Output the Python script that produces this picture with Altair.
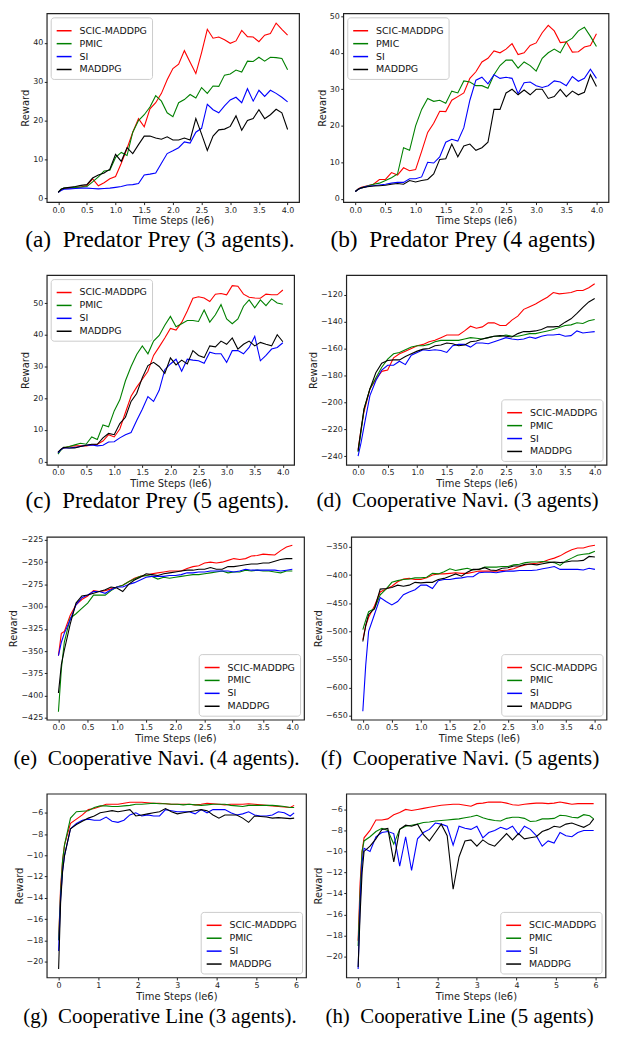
import altair as alt
import pandas as pd

SERIES = ["SCIC-MADDPG", "PMIC", "SI", "MADDPG"]
COLORS = ["#ff0000", "#008000", "#0000ff", "#000000"]

X4 = [0.0, 0.05, 0.1, 0.2, 0.3, 0.4, 0.5, 0.6, 0.7, 0.8, 0.9, 1.0, 1.1, 1.2, 1.3, 1.4, 1.5,
      1.6, 1.7, 1.8, 1.9, 2.0, 2.1, 2.2, 2.3, 2.4, 2.5, 2.6, 2.7, 2.8, 2.9, 3.0, 3.1, 3.2,
      3.3, 3.4, 3.5, 3.6, 3.7, 3.8, 3.9, 4.0]
X6 = [0.0, 0.05, 0.1, 0.15, 0.3, 0.45, 0.6, 0.75, 0.9, 1.05, 1.2, 1.35, 1.5, 1.65, 1.8, 1.95,
      2.1, 2.25, 2.4, 2.55, 2.7, 2.85, 3.0, 3.15, 3.3, 3.45, 3.6, 3.75, 3.9, 4.05, 4.2, 4.35,
      4.5, 4.65, 4.8, 4.95, 5.1, 5.25, 5.4, 5.55, 5.7, 5.85, 5.95]

# (a) Predator Prey (3 agents)
A_SCIC = [1.5, 2.2, 2.5, 2.6, 2.8, 2.9, 3.3, 5.0, 3.2, 4.0, 5.0, 5.6, 9.0, 12.8, 17.0, 20.5, 18.4, 23.0, 24.6, 27.0, 30.5, 33.4, 34.5, 38.0, 35.0, 32.1, 37.5, 43.5, 41.2, 41.5, 40.8, 39.9, 40.5, 43.2, 41.6, 41.5, 40.3, 42.0, 42.4, 45.1, 43.5, 42.0]
A_PMIC = [1.5, 2.3, 2.6, 2.7, 2.8, 2.9, 3.0, 4.2, 5.5, 7.0, 7.2, 10.5, 11.8, 11.0, 17.0, 20.0, 21.5, 23.5, 26.4, 25.0, 22.0, 21.0, 24.6, 25.4, 26.7, 25.8, 28.5, 27.0, 28.9, 28.8, 31.7, 32.0, 33.0, 32.5, 35.3, 35.2, 36.3, 35.3, 36.3, 36.2, 36.0, 33.1]
A_SI = [1.5, 2.0, 2.3, 2.4, 2.5, 2.6, 2.6, 2.5, 2.4, 2.5, 2.6, 2.8, 3.0, 3.4, 3.5, 3.8, 6.0, 6.2, 6.5, 9.0, 11.5, 12.2, 13.0, 14.5, 14.2, 17.0, 18.0, 24.2, 22.8, 22.0, 23.8, 25.3, 26.0, 24.6, 28.2, 25.0, 27.8, 26.2, 27.8, 27.0, 26.0, 24.8]
A_MADDPG = [1.5, 2.3, 2.6, 2.8, 3.0, 3.3, 3.5, 5.2, 6.0, 6.5, 7.5, 11.3, 9.5, 13.0, 11.5, 13.8, 16.0, 16.0, 15.5, 15.2, 15.8, 15.0, 15.0, 15.5, 15.0, 20.5, 16.5, 12.3, 16.0, 17.6, 17.8, 18.5, 21.2, 17.5, 20.0, 20.5, 22.8, 20.5, 21.5, 22.9, 22.0, 17.7]

# (b) Predator Prey (4 agents)
B_SCIC = [2.0, 2.8, 3.2, 3.6, 4.0, 5.3, 5.3, 7.2, 6.5, 8.5, 7.7, 8.0, 13.0, 18.2, 20.7, 24.0, 23.9, 27.0, 28.0, 29.0, 33.0, 34.8, 37.5, 38.5, 40.5, 40.0, 41.0, 42.5, 39.5, 40.0, 42.0, 42.7, 45.5, 47.5, 46.0, 42.8, 43.0, 40.2, 40.3, 41.6, 42.0, 45.2]
B_PMIC = [2.0, 2.7, 3.0, 3.5, 4.0, 4.3, 5.0, 5.8, 6.8, 14.0, 13.3, 20.0, 24.5, 27.5, 26.7, 27.0, 26.2, 29.5, 29.0, 32.3, 32.0, 31.0, 31.0, 30.3, 34.0, 36.5, 38.0, 38.0, 35.8, 37.5, 36.5, 35.0, 38.5, 40.0, 41.0, 40.0, 43.0, 44.0, 46.0, 47.0, 44.5, 41.7]
B_SI = [2.0, 2.6, 3.0, 3.4, 3.6, 3.8, 4.0, 4.3, 4.5, 4.5, 5.5, 5.5, 6.0, 10.0, 9.8, 11.5, 15.5, 16.3, 15.8, 19.5, 27.0, 32.5, 33.3, 31.5, 34.0, 33.0, 33.3, 33.0, 28.8, 31.8, 32.0, 31.0, 30.5, 31.0, 32.3, 32.0, 31.0, 33.5, 32.2, 33.0, 35.5, 33.0]
B_MADDPG = [2.0, 2.6, 3.0, 3.3, 3.5, 3.6, 3.7, 4.0, 4.2, 4.0, 5.0, 4.6, 5.0, 5.3, 6.8, 10.8, 11.0, 15.0, 11.5, 14.5, 15.0, 13.3, 14.0, 15.5, 24.5, 24.5, 29.0, 30.0, 28.5, 29.8, 28.5, 30.0, 30.0, 27.5, 28.0, 30.0, 28.0, 29.5, 28.5, 29.2, 34.0, 30.8]

# (c) Predator Prey (5 agents)
C_SCIC = [2.8, 3.8, 4.3, 4.8, 5.0, 5.0, 5.0, 5.3, 5.5, 6.5, 8.5, 7.8, 10.3, 15.5, 20.6, 23.5, 26.0, 28.5, 33.5, 36.2, 39.0, 42.0, 41.5, 43.9, 47.5, 51.5, 52.0, 51.6, 50.5, 52.8, 53.0, 52.6, 55.5, 55.3, 52.8, 51.8, 51.6, 51.5, 52.8, 52.6, 52.6, 54.1]
C_PMIC = [2.4, 3.6, 4.5, 4.8, 5.3, 5.8, 5.5, 7.8, 7.0, 11.6, 11.0, 16.0, 19.5, 25.5, 30.0, 33.8, 36.5, 34.0, 38.0, 39.8, 43.0, 45.8, 42.5, 43.5, 44.5, 44.5, 44.2, 47.8, 44.0, 46.3, 49.5, 45.0, 43.5, 45.0, 49.0, 51.0, 48.5, 51.0, 49.2, 51.3, 50.0, 49.6]
C_SI = [2.8, 3.8, 4.3, 4.3, 4.5, 4.8, 5.2, 5.3, 5.0, 5.2, 6.2, 6.3, 7.5, 8.5, 9.2, 13.0, 16.5, 20.5, 19.0, 22.5, 29.0, 30.8, 32.3, 28.5, 32.3, 32.0, 31.8, 31.0, 34.5, 34.0, 34.0, 31.3, 35.0, 35.0, 34.0, 36.0, 39.5, 31.8, 33.5, 35.5, 36.0, 37.5]
C_MADDPG = [3.0, 3.9, 4.5, 4.3, 4.3, 4.8, 5.2, 5.5, 5.5, 7.5, 8.9, 8.5, 12.0, 14.0, 19.0, 21.5, 26.5, 30.3, 31.3, 30.0, 27.8, 32.7, 30.5, 32.0, 30.8, 35.0, 33.5, 32.8, 36.5, 36.2, 38.0, 37.0, 39.0, 35.5, 37.0, 38.0, 36.5, 37.6, 37.0, 36.5, 40.0, 37.8]

# (d) Cooperative Navi. (3 agents)
D_SCIC = [-235, -220, -207, -190, -183, -177, -176, -167, -164, -162, -160, -158, -157, -155, -154, -152, -150, -150, -150, -147, -143.5, -145, -144, -141, -141, -143, -143, -139, -136, -131, -129, -127, -124.5, -122, -118.5, -119.5, -119, -118.5, -117, -117, -115, -112]
D_PMIC = [-237, -222, -205, -190, -182, -174, -168, -164, -163, -161, -159, -158, -158, -157, -155, -154, -154, -154, -154, -153, -152, -152.5, -153, -152, -151, -151, -150, -151, -151, -150, -149, -149, -148, -147, -146, -144.5, -143, -142.5, -141, -141.5, -139.5, -138.5]
D_SI = [-240, -230, -218, -195, -184, -176, -172.5, -172.5, -169.5, -172, -165, -163, -161, -161.5, -161, -161.5, -163, -158, -157, -157, -159, -156, -156, -156.5, -155, -153.5, -152, -153, -153.5, -153, -151.5, -152.5, -151, -150, -150, -149.5, -151, -150.5, -147, -148.5, -148, -147.5]
D_MADDPG = [-236, -220, -205, -190, -178, -171, -169, -168.5, -168.5, -166, -164, -162, -160.5, -160, -158, -157.5, -156, -156.5, -158, -157.5, -155, -154.5, -153, -152, -151, -150.5, -151, -151.5, -149, -147.5, -147.5, -147, -146, -144, -144, -143.5, -140.5, -138, -134, -129.5, -125.5, -123]

# (e) Cooperative Navi. (4 agents)
E_SCIC = [-355, -330, -328, -310, -298, -292, -288, -282, -283, -282, -280, -278, -276, -272, -268, -266, -265, -263, -262, -261, -260, -260, -260, -257, -255, -254, -251, -250, -251, -250, -248, -246, -247, -246, -243, -242.5, -241, -241.5, -242, -237, -233, -231]
E_PMIC = [-418, -370, -340, -313, -308, -302, -296, -287, -287, -287, -282, -278, -276, -272, -269, -266, -265, -266, -269, -267, -268, -267, -266, -265, -264, -264, -263, -262, -261, -260, -262, -261, -261, -259, -260, -259, -260, -260, -261, -262, -260, -260]
E_SI = [-355, -340, -330, -315, -298, -290, -287, -283, -283, -285, -281, -278, -278, -275, -273, -270, -267, -266, -266, -266, -265, -265, -264, -262, -262, -261, -261, -260, -260, -260, -260, -261, -260, -258, -259, -259, -259, -259, -259, -260, -259, -258]
E_MADDPG = [-397, -365, -349, -320, -296, -288, -287, -285, -283, -281, -278, -279, -283, -275, -270, -267, -263, -264, -265, -263, -262, -261, -260, -259, -259, -258, -258, -256, -258, -258, -255, -255, -254, -253, -252, -252, -251, -251, -249, -247, -246, -246]

# (f) Cooperative Navi. (5 agents)
F_SCIC = [-515, -490, -475, -455, -430, -425, -420, -412, -407, -406, -408, -408, -405, -400, -398, -398, -397, -396, -397, -397, -395, -393, -393, -393, -393, -392, -391, -389, -385, -382, -380, -379, -377, -373, -370, -366, -360, -355, -352, -352, -349, -347]
F_PMIC = [-497, -480, -465, -460, -435, -425, -413, -410, -408, -407, -405, -405, -404, -397, -398, -394, -389, -392, -390, -388, -391, -390, -386, -386, -386, -385, -385, -382, -381, -378, -377, -377, -376, -377, -378, -383, -375, -370, -365, -363, -362, -358]
F_SI = [-642, -560, -500, -470, -440, -447, -453, -447, -435, -430, -426, -418, -418, -424, -410, -408, -408, -406, -405, -403, -403, -396, -395, -395, -396, -394, -393, -393, -392, -392, -392, -391, -389, -387, -385, -390, -390, -390, -390, -391, -388, -390]
F_MADDPG = [-518, -490, -470, -460, -425, -424, -422, -418, -420, -418, -413, -414, -413, -413, -408, -406, -402, -398, -402, -395, -390, -390, -387, -391, -392, -388, -387, -384, -384, -381, -381, -382, -380, -378, -377, -378, -377, -375, -375, -374, -367, -368]

# (g) Cooperative Line (3 agents)
G_SCIC = [-18.0, -13.0, -10.5, -9.0, -7.0, -6.6, -6.2, -5.7, -5.6, -5.4, -5.2, -5.2, -5.2, -5.1, -5.0, -5.0, -5.0, -5.05, -5.1, -5.1, -5.15, -5.2, -5.2, -5.2, -5.2, -5.25, -5.2, -5.1, -5.15, -5.2, -5.25, -5.2, -5.2, -5.2, -5.15, -5.2, -5.25, -5.3, -5.35, -5.4, -5.45, -5.5, -5.3]
G_PMIC = [-18.0, -13.5, -10.5, -9.0, -6.5, -5.9, -5.85, -5.8, -5.5, -5.35, -5.35, -5.4, -5.4, -5.35, -5.3, -5.2, -5.2, -5.15, -5.1, -5.15, -5.15, -5.2, -5.2, -5.25, -5.2, -5.25, -5.3, -5.25, -5.2, -5.2, -5.2, -5.3, -5.35, -5.4, -5.3, -5.3, -5.3, -5.3, -5.3, -5.35, -5.4, -5.5, -5.5]
G_SI = [-19.0, -14.0, -11.5, -10.0, -7.5, -7.0, -6.7, -6.6, -6.7, -6.7, -6.4, -6.8, -6.9, -6.7, -6.2, -6.0, -6.3, -6.2, -6.3, -6.3, -5.7, -5.8, -5.9, -5.9, -5.9, -6.1, -5.7, -6.0, -5.7, -5.7, -5.7, -6.0, -6.2, -6.1, -5.9, -6.2, -6.3, -6.3, -6.2, -5.9, -6.0, -6.3, -6.0]
G_MADDPG = [-20.7, -14.5, -11.5, -10.0, -7.5, -7.1, -6.8, -6.5, -6.3, -6.0, -5.9, -5.8, -5.9, -5.8, -5.7, -6.3, -6.2, -6.1, -6.0, -5.9, -5.6, -5.9, -6.1, -6.0, -5.9, -5.8, -5.7, -5.8, -6.2, -6.5, -6.2, -6.2, -6.2, -6.5, -6.9, -6.3, -6.35, -6.4, -6.5, -6.45, -6.5, -6.55, -6.5]

# (h) Cooperative Line (5 agents)
H_SCIC = [-18.5, -13.0, -10.0, -8.7, -8.0, -7.0, -7.0, -6.9, -6.5, -6.3, -6.0, -6.1, -6.0, -5.9, -5.8, -5.7, -5.6, -5.55, -5.5, -5.5, -5.6, -5.7, -5.45, -5.4, -5.3, -5.3, -5.3, -5.4, -5.55, -5.6, -5.5, -5.45, -5.4, -5.4, -5.45, -5.4, -5.3, -5.4, -5.5, -5.45, -5.45, -5.45, -5.45]
H_PMIC = [-19.0, -14.0, -10.0, -9.0, -8.6, -8.1, -7.8, -8.0, -9.3, -7.9, -7.6, -7.5, -7.4, -7.25, -7.2, -7.1, -7.05, -7.0, -6.95, -6.9, -6.8, -6.7, -6.55, -6.8, -6.95, -7.05, -7.1, -6.85, -6.75, -6.75, -6.85, -7.15, -7.1, -6.9, -6.9, -6.85, -6.55, -6.6, -6.75, -6.8, -6.5, -6.6, -6.9]
H_SI = [-21.2, -15.0, -11.0, -9.7, -10.0, -8.6, -8.2, -8.1, -8.3, -11.4, -8.6, -11.8, -8.8, -8.2, -7.9, -7.3, -7.4, -7.6, -9.4, -7.6, -7.8, -7.9, -7.6, -8.7, -8.2, -8.0, -7.7, -7.9, -7.6, -8.4, -7.6, -7.9, -8.5, -9.5, -9.0, -9.2, -8.2, -8.5, -8.6, -8.2, -8.0, -8.0, -8.0]
H_MADDPG = [-21.0, -16.0, -12.0, -10.0, -9.5, -8.8, -7.9, -7.8, -11.0, -7.9, -7.5, -7.6, -7.4, -8.4, -9.0, -8.2, -7.4, -8.5, -13.6, -10.5, -9.0, -8.9, -9.5, -8.9, -9.3, -9.5, -8.9, -8.3, -8.9, -8.3, -8.8, -8.7, -8.6, -8.1, -7.9, -7.6, -7.7, -7.4, -7.3, -7.5, -7.7, -7.4, -6.9]

X4_TICKS = [0.0, 0.5, 1.0, 1.5, 2.0, 2.5, 3.0, 3.5, 4.0]
X6_TICKS = [0, 1, 2, 3, 4, 5, 6]
FRAME = "#222222"


def frame(xs, ys_list):
    rows = []
    for name, ys in zip(SERIES, ys_list):
        for x, y in zip(xs, ys):
            rows.append({"x": x, "y": y, "series": name})
    return pd.DataFrame(rows)


def panel(df, xdom, xticks, xfmt, ydom, yticks, caption, cap_size, cap_offset,
          legend_orient, w, h):
    color = alt.Color(
        "series:N",
        scale=alt.Scale(domain=SERIES, range=COLORS),
        legend=alt.Legend(
            title=None, orient=legend_orient, offset=4,
            symbolType="stroke", symbolSize=225, symbolStrokeWidth=1.5,
            labelFontSize=9.5, labelFont="DejaVu Sans", labelColor="#111111",
            strokeColor="#cccccc", fillColor="rgba(255,255,255,0.85)",
            padding=5, cornerRadius=3, rowPadding=-5, labelOffset=7,
        ),
    )
    return alt.Chart(df).mark_line(strokeWidth=1.1).encode(
        x=alt.X("x:Q", scale=alt.Scale(domain=xdom, nice=False, zero=False),
                axis=alt.Axis(values=xticks, format=xfmt, title="Time Steps (le6)",
                              labelOverlap=False, labelFlush=False)),
        y=alt.Y("y:Q", scale=alt.Scale(domain=ydom, nice=False, zero=False),
                axis=alt.Axis(values=yticks, title="Reward", labelOverlap=False,
                              labelFlush=False)),
        color=color,
    ).properties(
        width=w, height=h,
        title=alt.TitleParams(caption, orient="bottom", fontSize=cap_size,
                              offset=cap_offset, font="Liberation Serif",
                              fontWeight="normal", anchor="middle", frame="bounds",
                              color="black"),
    )


pa = panel(frame(X4, [A_SCIC, A_PMIC, A_SI, A_MADDPG]), [-0.2, 4.2], X4_TICKS, ".1f",
           [-1.0, 47.6], [0, 10, 20, 30, 40], "(a)\u2002Predator Prey (3 agents).",
           23.5, 2, "top-left", 254, 190)
pb = panel(frame(X4, [B_SCIC, B_PMIC, B_SI, B_MADDPG]), [-0.2, 4.2], X4_TICKS, ".1f",
           [-0.9, 50.8], [0, 10, 20, 30, 40, 50], "(b)\u2002Predator Prey (4 agents)",
           23.5, 2, "top-left", 267, 190)
pc = panel(frame(X4, [C_SCIC, C_PMIC, C_SI, C_MADDPG]), [-0.2, 4.2], X4_TICKS, ".1f",
           [-1.0, 58.8], [0, 10, 20, 30, 40, 50], "(c)\u2002Predator Prey (5 agents).",
           23, 1, "top-left", 249, 191)
pd_ = panel(frame(X4, [D_SCIC, D_PMIC, D_SI, D_MADDPG]), [-0.2, 4.2], X4_TICKS, ".1f",
            [-246.4, -105.6], [-240, -220, -200, -180, -160, -140, -120],
            "(d)\u2002Cooperative Navi. (3 agents)", 21.5, 1, "bottom-right", 262, 191)
pe = panel(frame(X4, [E_SCIC, E_PMIC, E_SI, E_MADDPG]), [-0.2, 4.2], X4_TICKS, ".1f",
           [-427.0, -221.6], [-425, -400, -375, -350, -325, -300, -275, -250, -225],
           "(e)\u2002Cooperative Navi. (4 agents).", 21.5, 5, "bottom-right", 259, 184)
pf = panel(frame(X4, [F_SCIC, F_PMIC, F_SI, F_MADDPG]), [-0.2, 4.2], X4_TICKS, ".1f",
           [-656.8, -332.3], [-650, -600, -550, -500, -450, -400, -350],
           "(f)\u2002Cooperative Navi. (5 agents)", 21.5, 5, "bottom-right", 257, 184)
pg = panel(frame(X6, [G_SCIC, G_PMIC, G_SI, G_MADDPG]), [-0.3, 6.25], X6_TICKS, "d",
           [-21.5, -4.2], [-20, -18, -16, -14, -12, -10, -8, -6],
           "(g)\u2002Cooperative Line (3 agents).", 21, 5, "bottom-right", 261, 185)
ph = panel(frame(X6, [H_SCIC, H_PMIC, H_SI, H_MADDPG]), [-0.3, 6.25], X6_TICKS, "d",
           [-22.0, -4.5], [-20, -18, -16, -14, -12, -10, -8, -6],
           "(h)\u2002Cooperative Line (5 agents)", 21, 5, "bottom-right", 261, 185)

row1 = alt.hconcat(pa, pb, spacing=16.5).resolve_scale(color="independent")
row2 = alt.hconcat(pc, pd_, spacing=12.5).resolve_scale(color="independent")
row3 = alt.hconcat(pe, pf, spacing=7.5).resolve_scale(color="independent")
row4 = alt.hconcat(pg, ph, spacing=5.5).resolve_scale(color="independent")

chart = alt.vconcat(row1, row2, row3, row4, spacing=21.5).resolve_scale(
    color="independent"
).properties(
    padding={"left": 0, "top": 0, "right": 0, "bottom": 0}
).configure_view(
    stroke=FRAME, strokeWidth=1.2
).configure_axis(
    grid=False, domain=False, ticks=True, tickSize=2.5, tickColor=FRAME,
    labelFont="DejaVu Sans", labelFontSize=8, labelColor=FRAME,
    titleFont="DejaVu Sans", titleFontSize=10, titleFontWeight="normal",
    titleColor=FRAME, labelPadding=1.5, titlePadding=2,
)

chart.save("out.html", embed_options={"renderer": "svg", "actions": False})
